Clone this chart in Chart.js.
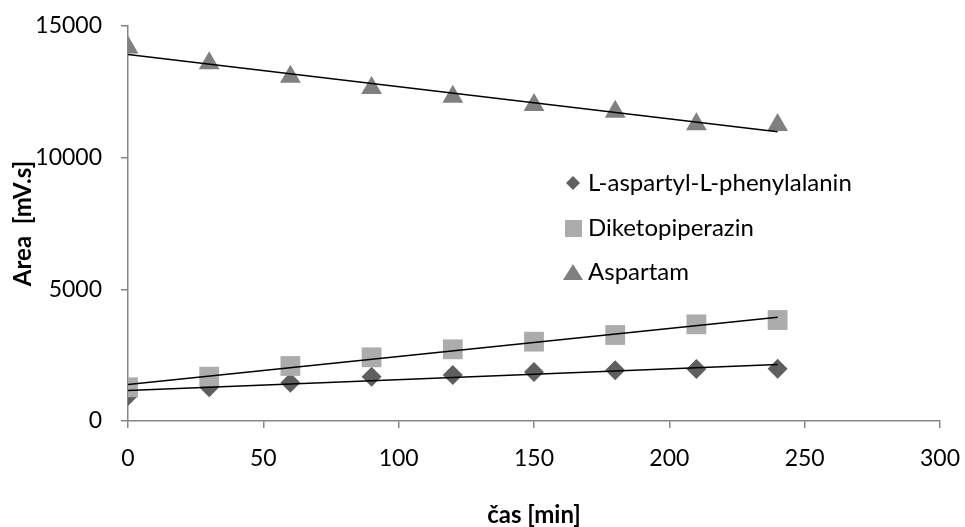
<!DOCTYPE html>
<html>
<head>
<meta charset="utf-8">
<script src="https://cdn.jsdelivr.net/npm/chart.js@4/dist/chart.umd.min.js"></script>
<style>
  html, body { margin: 0; padding: 0; background: #fff; }
  #wrap { width: 965px; height: 527px; position: relative; }
</style>
</head>
<body>
<div id="wrap"><canvas id="chart"></canvas></div>
<script>
// data
const times = [0, 30, 60, 90, 120, 150, 180, 210, 240];
const aspPhe = [950, 1280, 1455, 1683, 1747, 1861, 1924, 1975, 1987];
const diketo = [1280, 1683, 2089, 2418, 2722, 3012, 3266, 3671, 3835];
const aspartam = [14180, 13583, 13075, 12645, 12315, 12000, 11747, 11266, 11240];

const names = ['L-aspartyl-L-phenylalanin', 'Diketopiperazin', 'Aspartam'];
const yTicks = [0, 5000, 10000, 15000];
const xTicks = [0, 50, 100, 150, 200, 250, 300];

const FONT = 'Lato, "Open Sans", sans-serif';
const AXIS_GREY = '#868686';

function points(ys) {
    return times.map((t, i) => ({ x: t, y: ys[i] }));
}

// least squares line (Excel linear trendline), drawn from first to last time
function trend(ys) {
    const n = times.length;
    const mx = times.reduce((a, b) => a + b, 0) / n;
    const my = ys.reduce((a, b) => a + b, 0) / n;
    let sxy = 0, sxx = 0;
    for (let i = 0; i < n; i++) {
        sxy += (times[i] - mx) * (ys[i] - my);
        sxx += (times[i] - mx) * (times[i] - mx);
    }
    const k = sxy / sxx;
    const q = my - k * mx;
    const x0 = times[0], x1 = times[n - 1];
    return [{ x: x0, y: q + k * x0 }, { x: x1, y: q + k * x1 }];
}

function trendSet(ys) {
    return {
        type: 'line',
        data: trend(ys),
        borderColor: '#000',
        borderWidth: 1.5,
        pointRadius: 0,
        fill: false,
        order: 1
    };
}

// legend drawn inside the plot like in Excel
const legendBox = {
    id: 'legendBox',
    afterDatasetsDraw(chart) {
        const ctx = chart.ctx;
        const x = 573, rows = [183, 228, 272];
        ctx.save();
        ctx.font = '24px ' + FONT;
        ctx.textBaseline = 'middle';
        rows.forEach((y, i) => {
            ctx.fillStyle = ['#5f5f5f', '#acacac', '#808080'][i];
            ctx.beginPath();
            if (i === 0) {
                ctx.moveTo(x, y - 7); ctx.lineTo(x + 7, y); ctx.lineTo(x, y + 7); ctx.lineTo(x - 7, y);
            } else if (i === 1) {
                ctx.rect(x - 8, y - 8, 17, 17);
            } else {
                ctx.moveTo(x, y - 8); ctx.lineTo(x + 10, y + 8); ctx.lineTo(x - 10, y + 8);
            }
            ctx.closePath();
            ctx.fill();
            ctx.fillStyle = '#000';
            ctx.fillText(names[i], x + 15, y);
        });
        ctx.restore();
    }
};

new Chart(document.getElementById('chart'), {
    type: 'scatter',
    data: {
        datasets: [
            trendSet(aspPhe),
            trendSet(diketo),
            trendSet(aspartam),
            {
                label: names[2],
                data: points(aspartam),
                pointStyle: 'triangle',
                pointRadius: 12,
                backgroundColor: '#808080',
                borderColor: '#808080',
                borderWidth: 0,
                order: 2
            },
            {
                label: names[1],
                data: points(diketo),
                pointStyle: 'rect',
                pointRadius: 14,
                backgroundColor: '#acacac',
                borderColor: '#acacac',
                borderWidth: 0,
                order: 3
            },
            {
                label: names[0],
                data: points(aspPhe),
                pointStyle: 'rectRot',
                pointRadius: 10,
                backgroundColor: '#5f5f5f',
                borderColor: '#5f5f5f',
                borderWidth: 0,
                order: 4
            }
        ]
    },
    options: {
        responsive: true,
        maintainAspectRatio: false,
        animation: false,
        layout: { padding: { top: 26, right: 25, left: 0, bottom: 0 } },
        plugins: {
            legend: { display: false },
            tooltip: { enabled: false }
        },
        scales: {
            x: {
                type: 'linear',
                min: 0,
                max: 300,
                afterFit(scale) {
                    scale.height = 106;
                    scale.paddingLeft = 0;
                    scale.paddingRight = 0;
                },
                afterBuildTicks(scale) { scale.ticks = xTicks.map(v => ({ value: v })); },
                border: { color: AXIS_GREY, width: 1.5 },
                grid: { drawOnChartArea: false, drawTicks: true, tickLength: 7, color: AXIS_GREY, lineWidth: 1.5 },
                ticks: {
                    color: '#000',
                    padding: 17,
                    font: { family: FONT, size: 23 },
                    callback: v => String(v)
                },
                title: {
                    display: true,
                    text: 'čas [min]',
                    color: '#000',
                    font: { family: FONT, size: 24, weight: 'bold', lineHeight: 1 },
                    padding: { top: 0, bottom: 0 }
                }
            },
            y: {
                type: 'linear',
                min: 0,
                max: 15000,
                afterFit(scale) {
                    scale.width = 128;
                    scale.paddingTop = 0;
                    scale.paddingBottom = 0;
                },
                afterBuildTicks(scale) { scale.ticks = yTicks.map(v => ({ value: v })); },
                border: { color: AXIS_GREY, width: 1.5 },
                grid: { drawOnChartArea: false, drawTicks: true, tickLength: 7, color: AXIS_GREY, lineWidth: 1.5 },
                ticks: {
                    color: '#000',
                    padding: 19,
                    font: { family: FONT, size: 23 },
                    callback: v => String(v)
                },
                title: {
                    display: true,
                    text: 'Area  [mV.s]',
                    color: '#000',
                    font: { family: FONT, size: 24, weight: 'bold', lineHeight: 1 },
                    padding: { top: 11, bottom: 0 }
                }
            }
        }
    },
    plugins: [legendBox]
});
</script>
</body>
</html>
